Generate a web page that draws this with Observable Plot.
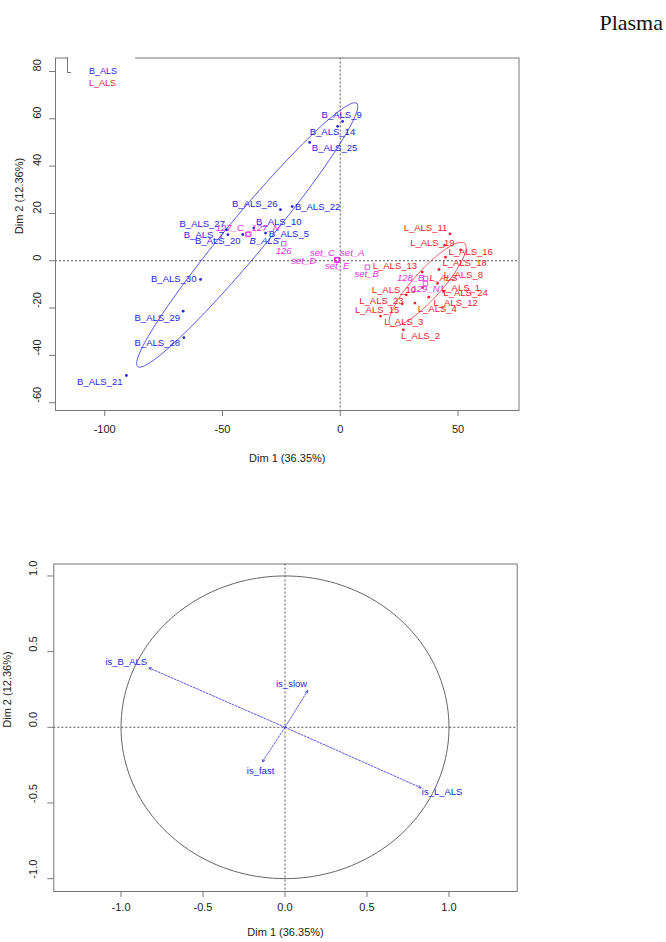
<!DOCTYPE html>
<html><head><meta charset="utf-8">
<script src="https://cdn.jsdelivr.net/npm/d3@7"></script>
<script src="https://cdn.jsdelivr.net/npm/@observablehq/plot@0.6"></script>
<style>
html,body{margin:0;padding:0;background:#fff}
body{width:666px;height:942px;position:relative;overflow:hidden;font-family:"Liberation Sans",Arial,sans-serif}
#top{position:absolute;left:0;top:0}
#bottom{position:absolute;left:0;top:480px}
#title{position:absolute;right:3px;top:12px;font-family:"Liberation Serif","Times New Roman",serif;font-size:22px;line-height:22px;color:#111;z-index:5}
#legcover{position:absolute;left:68px;top:55px;width:67px;height:38px;background:#fff;z-index:5}
#notch{position:absolute;left:67px;top:57px;width:3px;height:15px;border-left:1px solid #777;border-bottom:1px solid #777;z-index:6}
.leg{position:absolute;left:89px;font-size:9px;line-height:10px;z-index:7}
</style></head>
<body>
<div id="top"></div>
<div id="bottom"></div>
<div id="title">Plasma</div>
<div id="legcover"></div>
<div id="notch"></div>
<div class="leg" style="top:66px;color:#2b2bd9">B_ALS</div>
<div class="leg" style="top:78px;color:#e8222a">L_ALS</div>
<script>
// ---------- Panel 1: individuals factor map ----------
const bNames = ["B_ALS_9","B_ALS_14","B_ALS_25","B_ALS_26","B_ALS_22","B_ALS_27","B_ALS_10","B_ALS_7","B_ALS_20","B_ALS_5","B_ALS_30","B_ALS_29","B_ALS_28","B_ALS_21"];
const bDim1 = [1.0, -1.1, -13.0, -25.4, -20.4, -48.3, -36.7, -47.7, -41.4, -31.7, -59.3, -66.7, -66.4, -90.8];
const bDim2 = [58.9, 56.8, 50.0, 21.6, 22.9, 13.1, 13.8, 11.0, 11.1, 11.7, -7.9, -21.3, -32.5, -48.5];
const bLabDim1 = [0.6, -3.3, -2.4, -36.3, -9.6, -58.6, -26.1, -57.9, -52.0, -21.8, -70.7, -77.7, -77.7, -102.1];
const bLabDim2 = [61.8, 54.6, 47.5, 24.1, 22.9, 15.6, 16.6, 11.1, 8.3, 11.4, -7.9, -24.1, -34.8, -51.3];

const lNames = ["L_ALS_11","L_ALS_19","L_ALS_16","L_ALS_18","L_ALS_8","L_ALS_13","L_ALS_10","L_ALS_1","L_ALS_24","L_ALS_12","L_ALS_4","L_ALS_23","L_ALS_15","L_ALS_3","L_ALS_2"];
const lDim1 = [46.6, 44.3, 51.1, 44.7, 41.9, 34.8, 35.0, 41.3, 43.9, 37.6, 31.7, 28.0, 17.1, 26.3, 26.8];
const lDim2 = [11.4, 6.5, 4.6, 1.5, -3.7, -4.8, -11.3, -9.6, -13.0, -15.4, -17.9, -14.4, -23.4, -18.2, -29.2];
const lLabDim1 = [36.2, 39.1, 55.4, 52.8, 52.3, 23.2, 22.8, 51.1, 53.2, 49.0, 41.2, 17.5, 15.7, 27.0, 34.1];
const lLabDim2 = [13.9, 7.6, 3.9, -0.8, -5.8, -2.1, -12.3, -11.6, -13.7, -17.9, -20.3, -17.1, -20.6, -26.0, -31.9];

// supplementary categories (magenta)
const supNames = ["127_C","127_N","126","set_C","set_A","set_D","set_E","set_B","128_B","129_N"];
const supDim1 = [-39.3, -38.8, -24.0, -1.4, -1.2, -1.5, -1.3, 11.5, 36.2, 36.2];
const supDim2 = [11.1, 11.3, 7.2, 0.5, 0.4, 0.3, 0.4, -2.7, -7.5, -9.6];
const supLabDim1 = [-46.9, -31.7, -24.0, -7.6, 5.1, -15.5, -1.3, 11.2, 29.9, 36.2];
const supLabDim2 = [13.8, 13.8, 4.1, 3.2, 3.4, -0.2, -2.1, -5.5, -7.4, -12.1];

// group centroids (italic)
const grpNames = ["B_ALS","L_ALS"];
const grpLabDim1 = [-32.2, 43.8];
const grpLabDim2 = [8.3, -7.4];

// confidence ellipses: centre, semi-axes, angle (deg)
const ellGroup = ["B_ALS","L_ALS"];
const ellCx = [-39.5, 37.1];
const ellCy = [10.9, -10.0];
const ellA = [72.5, 23.4];
const ellB = [8.4, 6.0];
const ellAngle = [50.1, 47.8];

const topXTicks = [-100, -50, 0, 50];
const topYTicks = [-60, -40, -20, 0, 20, 40, 60, 80];
const xTitle = "Dim 1 (36.35%)";
const yTitle = "Dim 2 (12.36%)";

// ---------- Panel 2: variables factor map ----------
const varNames = ["is_B_ALS","is_slow","is_fast","is_L_ALS"];
const varDim1 = [-0.83, 0.139, -0.139, 0.83];
const varDim2 = [0.393, 0.243, -0.23, -0.40];
const varLabDim1 = [-0.968, 0.04, -0.149, 0.958];
const varLabDim2 = [0.435, 0.287, -0.286, -0.429];
const botTicks = [-1.0, -0.5, 0.0, 0.5, 1.0];

// ---------- colours ----------
const BLUE = "#2424dc", RED = "#e8222a", MAG = "#e030e0", FRAME = "#777", GUIDE = "#555";
const groupColor = {B_ALS: BLUE, L_ALS: RED};

// ---------- build rows ----------
const bRows = bNames.map((n,i)=>({name:n, x:bDim1[i], y:bDim2[i], lx:bLabDim1[i], ly:bLabDim2[i]}));
const lRows = lNames.map((n,i)=>({name:n, x:lDim1[i], y:lDim2[i], lx:lLabDim1[i], ly:lLabDim2[i]}));
const supRows = supNames.map((n,i)=>({name:n, x:supDim1[i], y:supDim2[i], lx:supLabDim1[i], ly:supLabDim2[i]}));
const grpRows = grpNames.map((n,i)=>({name:n, lx:grpLabDim1[i], ly:grpLabDim2[i]}));
const ellRows = ellGroup.flatMap((g,i)=>{
  const t = ellAngle[i]*Math.PI/180;
  return d3.range(0, 361, 2).map(k=>{
    const u = k*Math.PI/180;
    return {g, x: ellCx[i] + ellA[i]*Math.cos(u)*Math.cos(t) - ellB[i]*Math.sin(u)*Math.sin(t),
               y: ellCy[i] + ellA[i]*Math.cos(u)*Math.sin(t) + ellB[i]*Math.sin(u)*Math.cos(t)};
  });
});
const varRows = varNames.map((n,i)=>({name:n, x:varDim1[i], y:varDim2[i], lx:varLabDim1[i], ly:varLabDim2[i]}));
const circleRows = d3.range(0, 361, 2).map(k=>({x:Math.cos(k*Math.PI/180), y:Math.sin(k*Math.PI/180)}));

const baseStyle = {fontFamily:"'Liberation Sans', Arial, sans-serif", fontSize:"11px", background:"white", color:"#222", overflow:"visible"};

const topPlot = Plot.plot({
  width: 666, height: 480,
  marginLeft: 55, marginRight: 147.5, marginTop: 57.5, marginBottom: 70,
  x: {domain: [-120.9, 75.9]},
  y: {domain: [-63.3, 85.7]},
  style: baseStyle,
  marks: [
    Plot.ruleX([0], {stroke: GUIDE, strokeDasharray: "2,2"}),
    Plot.ruleY([0], {stroke: GUIDE, strokeDasharray: "2,2"}),
    Plot.line(ellRows, {x:"x", y:"y", z:"g", stroke: d=>groupColor[d.g], strokeWidth: 0.9, strokeOpacity: 0.85}),
    Plot.dot(bRows, {x:"x", y:"y", r:1.4, fill: BLUE}),
    Plot.dot(lRows, {x:"x", y:"y", r:1.4, fill: RED}),
    Plot.text(bRows, {x:"lx", y:"ly", text:"name", fill: BLUE, fontSize: 9.5}),
    Plot.text(lRows, {x:"lx", y:"ly", text:"name", fill: RED, fontSize: 9.5}),
    Plot.dot(supRows, {x:"x", y:"y", r:2.5, symbol:"square", stroke: MAG, strokeWidth: 0.8}),
    Plot.text(supRows, {x:"lx", y:"ly", text:"name", fill: MAG, fontSize: 9.5, fontStyle:"italic"}),
    Plot.text(grpRows, {x:"lx", y:"ly", text:"name", fill: d=>groupColor[d.name], fontSize: 9.5, fontStyle:"italic"}),
    Plot.frame({stroke: FRAME}),
    Plot.axisX({ticks: topXTicks, tickSize: 6, tickFormat: ()=>"", stroke: FRAME, label: null}),
    Plot.axisY({ticks: topYTicks, tickSize: 6, tickFormat: ()=>"", stroke: FRAME, label: null}),
    Plot.text(topXTicks, {x: d=>d, frameAnchor:"bottom", dy: 22, text: d=>String(d), fill:"#222"}),
    Plot.text(topYTicks, {y: d=>d, frameAnchor:"left", dx: -18, rotate: -90, text: d=>String(d), fill:"#222"}),
    Plot.text([xTitle], {frameAnchor:"bottom", dy: 51, text: d=>d, fill:"#222"}),
    Plot.text([yTitle], {frameAnchor:"left", dx: -36, rotate: -90, text: d=>d, fill:"#222"})
  ]
});
document.getElementById("top").appendChild(topPlot);

const botPlot = Plot.plot({
  width: 666, height: 462,
  marginLeft: 53.3, marginRight: 149.3, marginTop: 83.5, marginBottom: 51,
  x: {domain: [-1.41, 1.416]},
  y: {domain: [-1.085, 1.079]},
  style: baseStyle,
  marks: [
    Plot.ruleX([0], {stroke: GUIDE, strokeDasharray: "2,2"}),
    Plot.ruleY([0], {stroke: GUIDE, strokeDasharray: "2,2"}),
    Plot.line(circleRows, {x:"x", y:"y", stroke: "#666", strokeWidth: 1}),
    Plot.arrow(varRows, {x1: 0, y1: 0, x2: "x", y2: "y", stroke: BLUE, strokeWidth: 0.9, strokeOpacity: 0.85, strokeDasharray: "2,1.5", headLength: 5, headAngle: 50}),
    Plot.text(varRows, {x:"lx", y:"ly", text:"name", fill: BLUE, fontSize: 9.5}),
    Plot.frame({stroke: FRAME}),
    Plot.axisX({ticks: botTicks, tickSize: 6, tickFormat: ()=>"", stroke: FRAME, label: null}),
    Plot.axisY({ticks: botTicks, tickSize: 6, tickFormat: ()=>"", stroke: FRAME, label: null}),
    Plot.text(botTicks, {x: d=>d, frameAnchor:"bottom", dy: 19, text: d=>d.toFixed(1), fill:"#222"}),
    Plot.text(botTicks, {y: d=>d, frameAnchor:"left", dx: -20, rotate: -90, text: d=>d.toFixed(1), fill:"#222"}),
    Plot.text([xTitle], {frameAnchor:"bottom", dy: 44, text: d=>d, fill:"#222"}),
    Plot.text([yTitle], {frameAnchor:"left", dx: -46, rotate: -90, text: d=>d, fill:"#222"})
  ]
});
document.getElementById("bottom").appendChild(botPlot);
</script>
</body></html>
